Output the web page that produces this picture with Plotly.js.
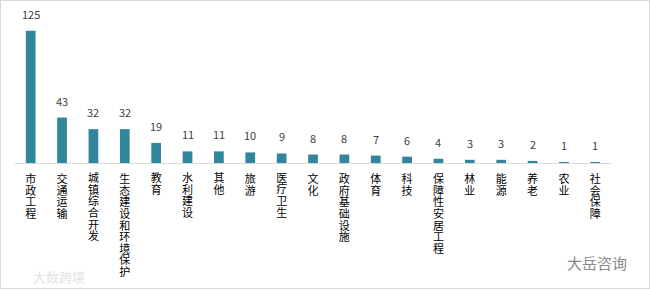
<!DOCTYPE html>
<html><head><meta charset="utf-8">
<script src="https://cdn.plot.ly/plotly-3.0.1.min.js"></script>
<style>
html,body{margin:0;padding:0;background:#fff}
#wrap{position:relative;width:650px;height:290px}
#chart{width:650px;height:290px}
#frame{position:absolute;left:0;top:0;width:648px;height:287px;border:1px solid #d9d9d9;pointer-events:none}
</style>
</head><body>
<div id="wrap"><div id="chart"></div><div id="frame"></div></div>
<script>
const categories = ['市政工程','交通运输','城镇综合开发','生态建设和环境保护','教育','水利建设','其他','旅游','医疗卫生','文化','政府基础设施','体育','科技','保障性安居工程','林业','能源','养老','农业','社会保障'];
const values = [125,43,32,32,19,11,11,10,9,8,8,7,6,4,3,3,2,1,1];
const tickLabels = categories.slice();
const watermarks = ['大数跨境','大岳咨询'];

const FONT = '"Noto Sans CJK SC", "Noto Sans", sans-serif';

const trace = {
  type: 'bar',
  x: categories,
  y: values,
  marker: {color: '#31859C'},
  hoverinfo: 'none'
};

const valueLabels = values.map((v, i) => ({
  x: categories[i], y: v, xref: 'x', yref: 'y',
  text: String(v), showarrow: false, yanchor: 'bottom', yshift: 7,
  font: {family: FONT, size: 11, color: '#404040'}
}));

const marks = [
  {xref: 'paper', yref: 'paper', x: 0.074, y: -0.77, xanchor: 'center', yanchor: 'middle',
   text: watermarks[0], showarrow: false,
   font: {family: FONT, size: 13, color: '#e3e3e3'}},
  {xref: 'paper', yref: 'paper', x: 0.977, y: -0.669, xanchor: 'center', yanchor: 'middle',
   text: watermarks[1], showarrow: false,
   font: {family: FONT, size: 15, color: '#8a8a8a'}}
];

const layout = {
  width: 650, height: 290,
  margin: {l: 15, r: 39, t: 15, b: 127, pad: 0},
  paper_bgcolor: '#fff', plot_bgcolor: '#fff',
  showlegend: false,
  bargap: 0.69,
  font: {family: FONT, color: '#000'},
  xaxis: {
    type: 'category',
    tickmode: 'array', tickvals: categories, ticktext: tickLabels,
    tickangle: 0, ticks: '', showgrid: false, zeroline: false,
    ticklabelstandoff: 6,
    showline: true, linecolor: '#d9d9d9', linewidth: 1,
    tickfont: {family: FONT, size: 11, color: '#000'},
    fixedrange: true
  },
  yaxis: {
    range: [0, 140], visible: false, showgrid: false, zeroline: false, fixedrange: true
  },
  annotations: valueLabels.concat(marks)
};

Plotly.newPlot('chart', [trace], layout, {staticPlot: true, displayModeBar: false}).then(gd => {
  gd.querySelectorAll('.xtick text').forEach(t => {
    const r0 = t.getBoundingClientRect();
    const cx0 = r0.left + r0.width / 2;
    const top0 = r0.top + 2;
    t.setAttribute('writing-mode', 'tb');
    t.style.writingMode = 'vertical-rl';
    t.style.letterSpacing = '0.6px';
    t.setAttribute('text-anchor', 'start');
    const r1 = t.getBoundingClientRect();
    const cx1 = r1.left + r1.width / 2;
    const x = parseFloat(t.getAttribute('x')) || 0;
    const y = parseFloat(t.getAttribute('y')) || 0;
    t.setAttribute('x', x + (cx0 - cx1));
    t.setAttribute('y', y + (top0 - r1.top));
  });
});
</script>
</body></html>
